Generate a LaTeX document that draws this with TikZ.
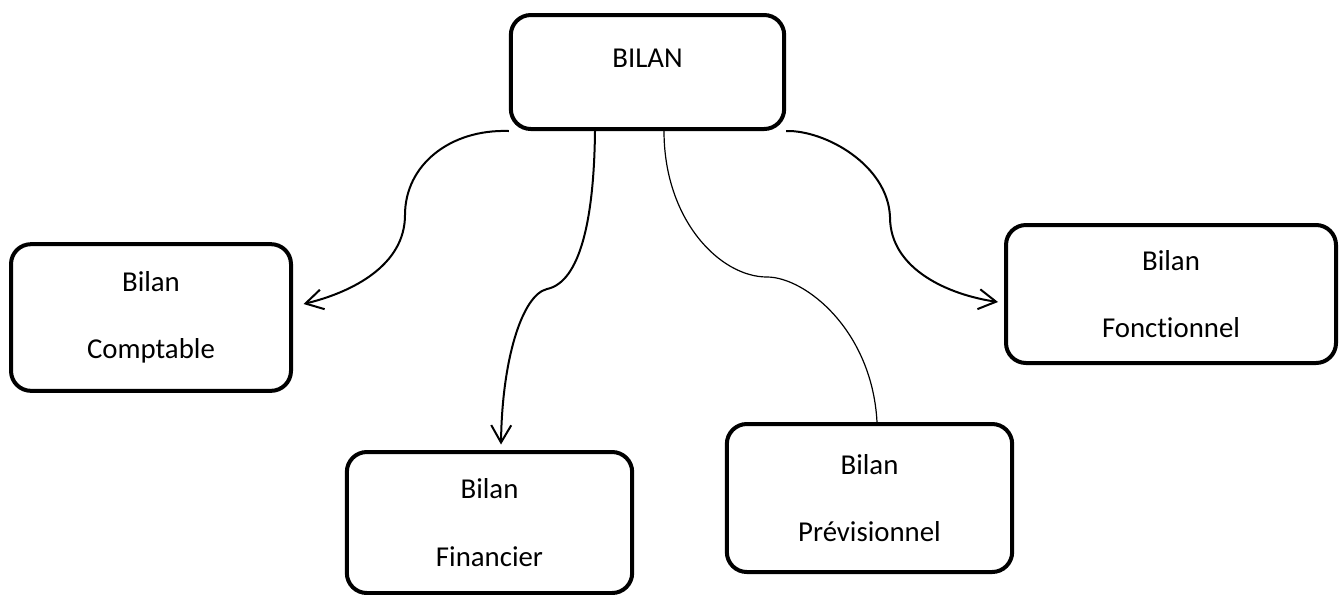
\documentclass[tikz,border=0pt]{standalone}
\usepackage{fontspec}
\setmainfont{Carlito}[Ligatures={NoCommon}]
\usetikzlibrary{arrows.meta}

\newcommand{\bilanfont}{\fontsize{21.6}{50.5}\selectfont}
\tikzset{
  box/.style={draw, line width=3pt, rounded corners=15pt, align=center,
    font=\bilanfont, inner sep=0pt},
  link/.style={line width=1.5pt},
}

\begin{document}
\begin{tikzpicture}[x=0.75pt, y=-0.75pt, >={Straight Barb[length=13pt,width=15pt]}]
  \useasboundingbox (0,0) rectangle (1341,594);
  % boxes
  \node[box, minimum width=205pt, minimum height=85.5pt, text depth=20pt]
     (bilan) at (647.5,72) {BILAN};
  \node[box, minimum width=210pt, minimum height=110pt]
     (comptable) at (151,317.5) {Bilan\\Comptable};
  \node[box, minimum width=214pt, minimum height=105.75pt]
     (financier) at (489.5,522.5) {Bilan\\Financier};
  \node[box, minimum width=214pt, minimum height=111pt]
     (previsionnel) at (869.5,498) {Bilan\\Prévisionnel};
  \node[box, minimum width=247.5pt, minimum height=103.5pt]
     (fonctionnel) at (1171,294) {Bilan\\Fonctionnel};
  % links
  \draw[link,->] (bilan.south west)
     .. controls (450,129) and (405,165) .. (405,215)
     .. controls (405,265) and (353,292) .. ([shift={(10.5,-13.5)}]comptable.east);
  \draw[link,->] ([shift={(-52.5,0)}]bilan.south)
     .. controls (594,220) and (580,282) .. (547,289)
     .. controls (522,295) and (502,360) .. ([shift={(11.5,-5.5)}]financier.north);
  \draw[line width=0.9pt] ([shift={(16.5,0)}]bilan.south)
     .. controls (664,220) and (720,277) .. (767,277)
     .. controls (805,277) and (872,330) .. ([shift={(7.5,0)}]previsionnel.north);
  \draw[link,->] (bilan.south east)
     .. controls (825,130) and (888,165) .. (890,217)
     .. controls (890,270) and (950,295) .. ([shift={(-6,8)}]fonctionnel.west);
\end{tikzpicture}
\end{document}
